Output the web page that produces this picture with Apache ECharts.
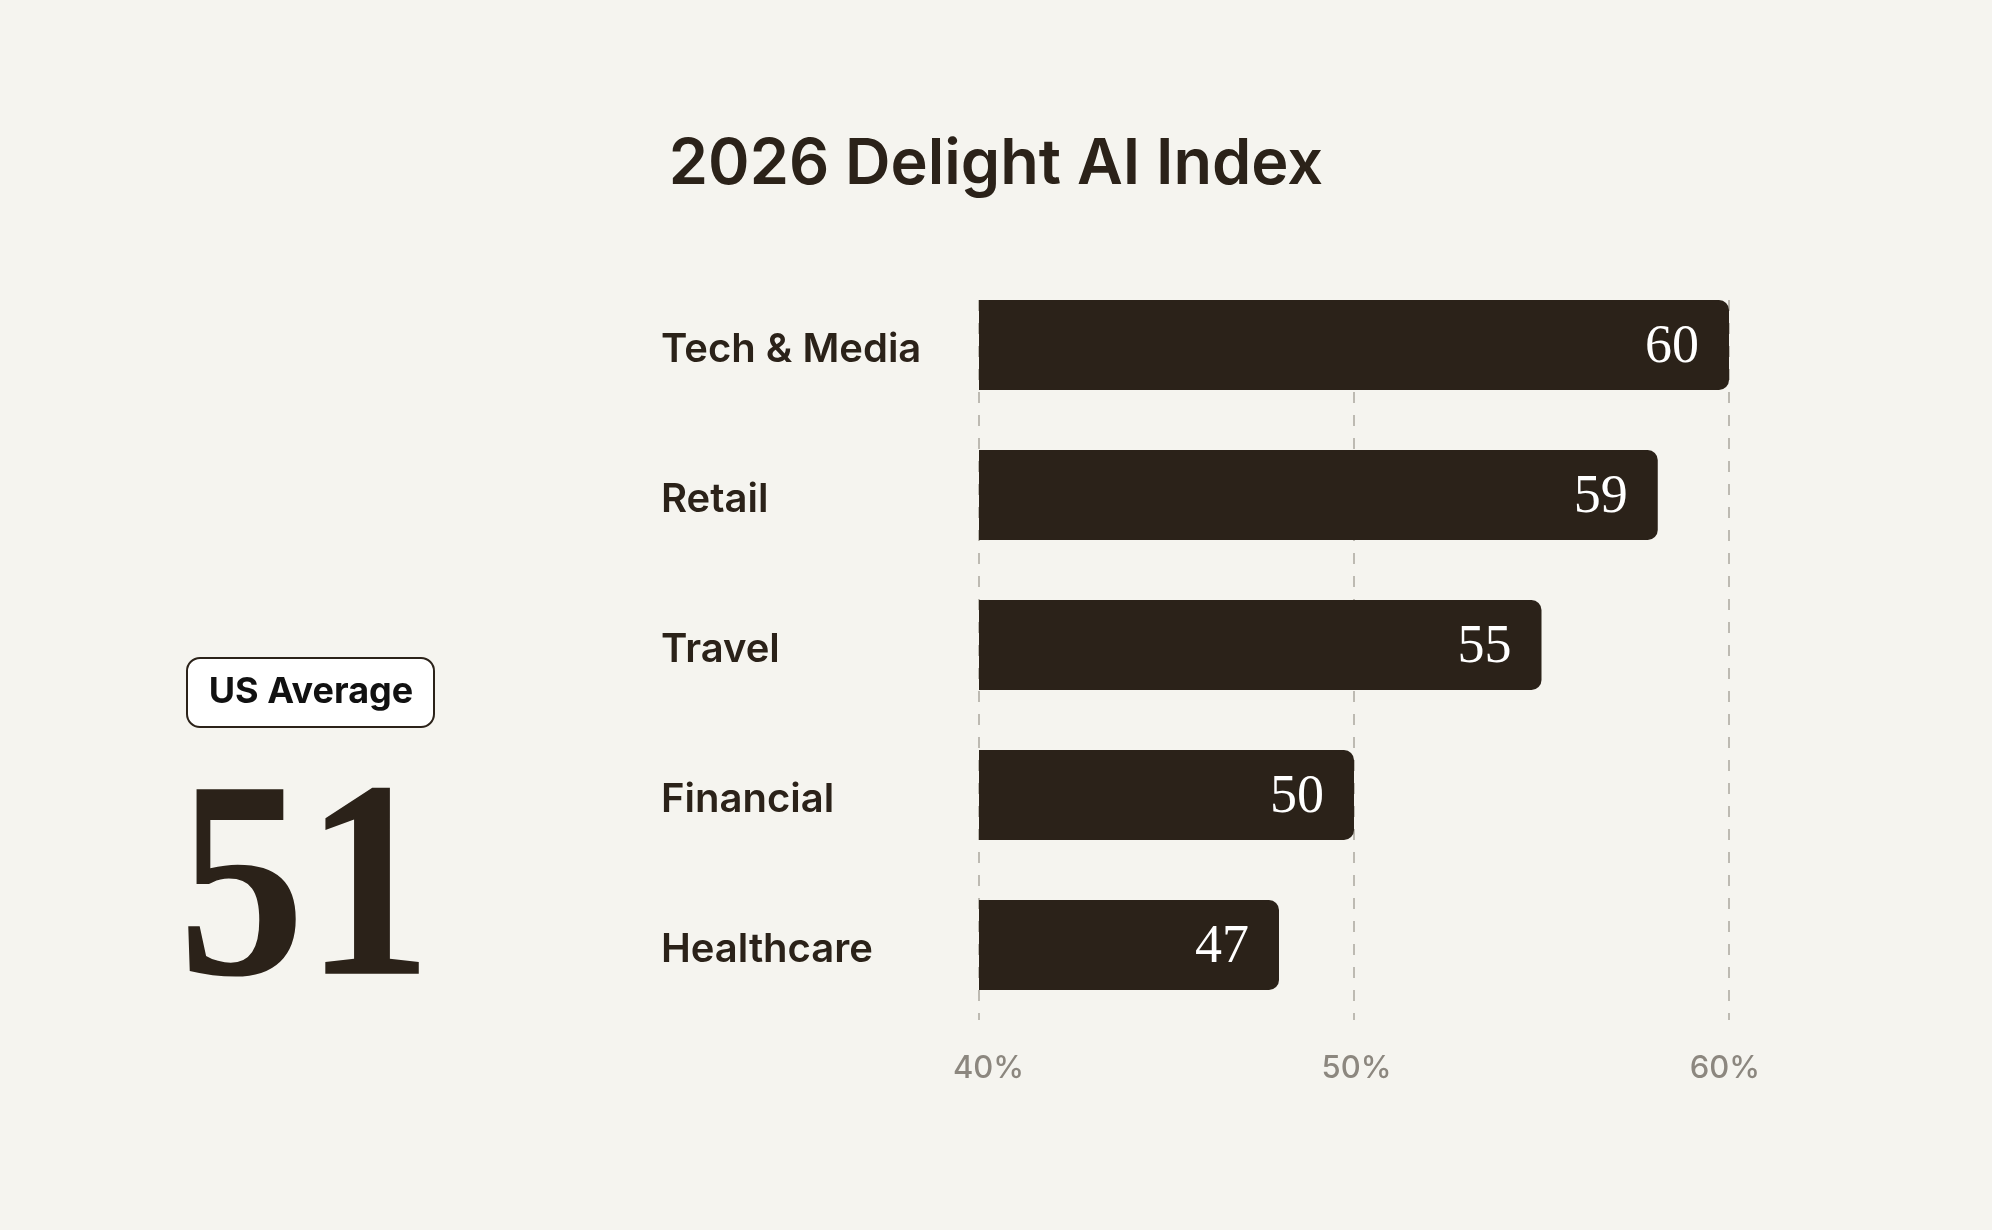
<!DOCTYPE html>
<html>
<head>
<meta charset="utf-8">
<script src="https://cdn.jsdelivr.net/npm/echarts@6/dist/echarts.min.js"></script>
<style>
  html, body { margin: 0; padding: 0; background: #f5f4ef; }
  #chart { width: 1992px; height: 1230px; }
</style>
</head>
<body>
<div id="chart"></div>
<script>
var categories = ['Tech & Media', 'Retail', 'Travel', 'Financial', 'Healthcare'];
// bar lengths as drawn in the picture, printed scores as labelled
var barValues = [60, 58.1, 55, 50, 48];
var scoreLabels = ['60', '59', '55', '50', '47'];
var tickLabels = ['40%', '50%', '60%'];
var usAverage = 51;

var ink = '#2b2219';
var sans = 'Inter, "Liberation Sans", sans-serif';
var serif = '"Liberation Serif", "DejaVu Serif", serif';

// the tick labels sit a little off their grid lines in the original
var tickStyles = ['t0', 't1', 't2'];

var option = {
  backgroundColor: '#f5f4ef',
  animation: false,
  title: {
    text: '2026 Delight AI Index',
    left: 'center',
    top: 129,
    textStyle: { fontFamily: sans, fontSize: 63, fontWeight: 600, color: ink }
  },
  grid: [
    { left: 979, right: 263, top: 270, bottom: 210 },
    { left: 979, right: 263, top: 300, bottom: 210 }
  ],
  xAxis: [{
    type: 'value',
    gridIndex: 0,
    min: 40,
    max: 60,
    interval: 10,
    axisLine: { show: false },
    axisTick: { show: false },
    splitLine: { show: false },
    axisLabel: {
      margin: 33,
      fontFamily: sans,
      fontSize: 31,
      fontWeight: 500,
      color: '#8c877f',
      formatter: function (v) {
        var i = (v - 40) / 10;
        return '{' + tickStyles[i] + '|' + tickLabels[i] + '}';
      },
      rich: {
        t0: { padding: [0, 0, 0, 19] },
        t1: { padding: [0, 0, 0, 5] },
        t2: { padding: [0, 8, 0, 0] }
      }
    }
  }, {
    type: 'value',
    gridIndex: 1,
    min: 40,
    max: 60,
    interval: 10,
    axisLine: { show: false },
    axisTick: { show: false },
    axisLabel: { show: false },
    splitLine: {
      show: true,
      lineStyle: { color: '#aaa69f', width: 1.5, type: [11, 12] }
    }
  }],
  yAxis: [{
    type: 'category',
    gridIndex: 0,
    data: categories,
    inverse: true,
    axisLine: { show: false },
    axisTick: { show: false },
    axisLabel: {
      align: 'left',
      verticalAlign: 'top',
      lineHeight: 9,
      margin: 318,
      fontFamily: sans,
      fontSize: 40,
      fontWeight: 600,
      color: ink
    }
  }, {
    type: 'category',
    gridIndex: 1,
    data: categories,
    show: false
  }],
  series: [{
    type: 'bar',
    xAxisIndex: 0,
    yAxisIndex: 0,
    data: barValues,
    barWidth: 90,
    z: 3,
    itemStyle: { color: ink, borderRadius: [0, 10, 10, 0] },
    label: {
      show: true,
      position: 'insideRight',
      distance: 30,
      offset: [0, 3],
      fontFamily: serif,
      fontSize: 54,
      color: '#ffffff',
      formatter: function (p) { return scoreLabels[p.dataIndex]; }
    }
  }],
  graphic: [
    {
      type: 'rect',
      shape: { x: 187, y: 658, width: 247, height: 69, r: 13 },
      style: { fill: '#ffffff', stroke: ink, lineWidth: 2 }
    },
    {
      type: 'text',
      x: 311, y: 692,
      style: {
        text: 'US Average',
        fontFamily: sans, fontSize: 36, fontWeight: 700, fill: '#111111',
        align: 'center', verticalAlign: 'middle'
      }
    },
    {
      type: 'text',
      x: 305, y: 901,
      scaleX: 0.9,
      style: {
        text: String(usAverage),
        fontFamily: serif, fontSize: 282, fontWeight: 'bold', fill: ink,
        align: 'center', verticalAlign: 'middle'
      }
    }
  ]
};

var myChart = echarts.init(document.getElementById('chart'));
myChart.setOption(option);
</script>
</body>
</html>
